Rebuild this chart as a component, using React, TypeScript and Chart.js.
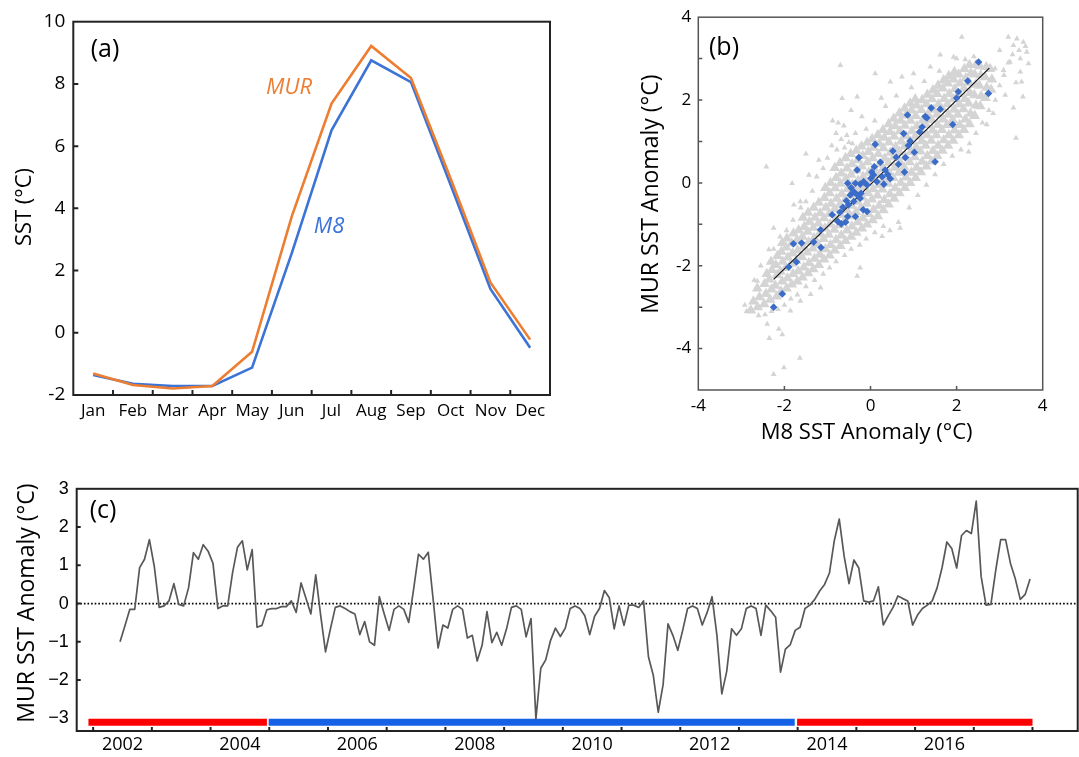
import React, { useEffect, useRef } from "react";
import { Chart, registerables } from "chart.js";
Chart.register(...registerables);

const SANS = '"Open Sans", "DejaVu Sans", sans-serif';
const ARIAL = '"Liberation Sans", Arial, sans-serif';
const ORANGE = "#ED7D31";
const BLUE = "#3B73D6";
const DIAMOND = "#3A6CC8";
const GRAY = "#D4D4D4";

// ---------- (a) monthly climatology ----------
const months = ["Jan", "Feb", "Mar", "Apr", "May", "Jun", "Jul", "Aug", "Sep", "Oct", "Nov", "Dec"];
const murClimatology = [-1.31, -1.68, -1.79, -1.71, -0.61, 3.74, 7.37, 9.22, 8.19, 4.95, 1.62, -0.22];
const m8Climatology = [-1.36, -1.64, -1.71, -1.71, -1.12, 2.56, 6.51, 8.76, 8.06, 4.75, 1.41, -0.48];
const climYTicks = [0, 2, 4, 6, 8];

// ---------- (b) scatter (x = M8 anomaly, y = MUR anomaly) ----------
const grayBandLow = [
  -2.78, -3.08, -2.72, -2.86, -2.62, -3.0, -2.58, -2.76, -2.63, -2.55,
  -2.47, -2.93, -2.43, -2.68, -2.46, -2.44, -2.41, -2.2,
  -2.33, -2.82, -2.3, -2.57, -2.35, -2.33, -2.29, -2.1, -2.31, -1.9,
  -2.18, -2.74, -2.21, -2.48, -2.17, -2.22, -2.2, -1.98, -2.16, -1.76,
  -2.08, -2.62, -2.05, -2.38, -2.09, -2.14, -2.04, -1.9, -2.07, -1.66, -2.05, -1.45,
  -1.95, -2.55, -1.93, -2.3, -1.97, -2.05, -1.92, -1.8, -1.96, -1.56, -1.94, -1.34,
  -1.83, -2.45, -1.8, -2.2, -1.84, -1.95, -1.81, -1.7, -1.83, -1.46, -1.79, -1.22,
  -1.7, -2.38, -1.68, -2.13, -1.72, -1.88, -1.69, -1.63, -1.71, -1.38, -1.67, -1.14,
  -1.58, -2.28, -1.55, -2.04, -1.59, -1.79, -1.56, -1.54, -1.58, -1.3, -1.54, -1.06, -1.57, -0.84,
  -1.45, -2.18, -1.43, -1.93, -1.47, -1.68, -1.44, -1.43, -1.46, -1.18, -1.42, -0.94, -1.45, -0.72,
  -1.33, -2.08, -1.3, -1.83, -1.34, -1.58, -1.31, -1.33, -1.33, -1.08, -1.29, -0.84, -1.32, -0.6,
  -1.2, -1.98, -1.18, -1.73, -1.22, -1.48, -1.19, -1.23, -1.21, -0.98, -1.17, -0.73, -1.2, -0.48,
  -1.08, -1.85, -1.05, -1.6, -1.09, -1.35, -1.06, -1.1, -1.08, -0.85, -1.04, -0.6, -1.07, -0.36, -1.05, -0.12,
];
const grayBandMid = [
  -0.95, -1.75, -0.93, -1.5, -0.97, -1.25, -0.94, -1.0, -0.96, -0.75, -0.92, -0.5, -0.95, -0.25, -0.93, 0.0,
  -0.83, -1.63, -0.8, -1.38, -0.84, -1.13, -0.81, -0.88, -0.83, -0.63, -0.79, -0.38, -0.82, -0.13, -0.8, 0.12, -0.83, 0.36,
  -0.7, -1.52, -0.68, -1.27, -0.72, -1.02, -0.69, -0.77, -0.71, -0.52, -0.67, -0.27, -0.7, -0.02, -0.68, 0.23, -0.71, 0.48,
  -0.58, -1.4, -0.55, -1.15, -0.59, -0.9, -0.56, -0.65, -0.58, -0.4, -0.54, -0.15, -0.57, 0.1, -0.55, 0.35, -0.58, 0.6,
  -0.45, -1.3, -0.43, -1.05, -0.47, -0.8, -0.44, -0.55, -0.46, -0.3, -0.42, -0.05, -0.45, 0.2, -0.43, 0.45, -0.46, 0.7,
  -0.33, -1.2, -0.3, -0.95, -0.34, -0.7, -0.31, -0.45, -0.33, -0.2, -0.29, 0.05, -0.32, 0.3, -0.3, 0.55, -0.33, 0.78,
  -0.2, -1.1, -0.18, -0.85, -0.22, -0.6, -0.19, -0.35, -0.21, -0.1, -0.17, 0.15, -0.2, 0.4, -0.18, 0.65, -0.21, 0.88,
  -0.08, -1.0, -0.05, -0.75, -0.09, -0.5, -0.06, -0.25, -0.08, 0.0, -0.04, 0.25, -0.07, 0.5, -0.05, 0.75, -0.08, 0.97,
  0.05, -0.9, 0.07, -0.65, 0.03, -0.4, 0.06, -0.15, 0.04, 0.1, 0.08, 0.35, 0.05, 0.6, 0.07, 0.85, 0.04, 1.06,
  0.17, -0.8, 0.2, -0.55, 0.16, -0.3, 0.19, -0.05, 0.17, 0.2, 0.21, 0.45, 0.18, 0.7, 0.2, 0.95, 0.17, 1.16,
  0.3, -0.66, 0.32, -0.41, 0.28, -0.16, 0.31, 0.09, 0.29, 0.34, 0.33, 0.59, 0.3, 0.84, 0.32, 1.09, 0.29, 1.28,
  0.42, -0.52, 0.45, -0.27, 0.41, -0.02, 0.44, 0.23, 0.42, 0.48, 0.46, 0.73, 0.43, 0.98, 0.45, 1.23, 0.42, 1.42,
  0.55, -0.38, 0.57, -0.13, 0.53, 0.12, 0.56, 0.37, 0.54, 0.62, 0.58, 0.87, 0.55, 1.12, 0.57, 1.37, 0.54, 1.55,
  0.67, -0.25, 0.7, 0.0, 0.66, 0.25, 0.69, 0.5, 0.67, 0.75, 0.71, 1.0, 0.68, 1.25, 0.7, 1.5, 0.67, 1.68,
  0.8, -0.12, 0.82, 0.13, 0.78, 0.38, 0.81, 0.63, 0.79, 0.88, 0.83, 1.13, 0.8, 1.38, 0.82, 1.63, 0.79, 1.8,
];
const grayBandHigh = [
  0.92, 0.0, 0.95, 0.25, 0.91, 0.5, 0.94, 0.75, 0.92, 1.0, 0.96, 1.25, 0.93, 1.5, 0.95, 1.75, 0.92, 1.92,
  1.05, 0.12, 1.07, 0.37, 1.03, 0.62, 1.06, 0.87, 1.04, 1.12, 1.08, 1.37, 1.05, 1.62, 1.07, 1.87, 1.04, 2.02,
  1.17, 0.26, 1.2, 0.51, 1.16, 0.76, 1.19, 1.01, 1.17, 1.26, 1.21, 1.51, 1.18, 1.76, 1.2, 2.0,
  1.3, 0.4, 1.32, 0.65, 1.28, 0.9, 1.31, 1.15, 1.29, 1.4, 1.33, 1.65, 1.3, 1.9, 1.32, 2.13,
  1.42, 0.52, 1.45, 0.77, 1.41, 1.02, 1.44, 1.27, 1.42, 1.52, 1.46, 1.77, 1.43, 2.02, 1.45, 2.24,
  1.55, 0.65, 1.57, 0.9, 1.53, 1.15, 1.56, 1.4, 1.54, 1.65, 1.58, 1.9, 1.55, 2.15, 1.57, 2.35,
  1.67, 0.78, 1.7, 1.03, 1.66, 1.28, 1.69, 1.53, 1.67, 1.78, 1.71, 2.03, 1.68, 2.28, 1.7, 2.48,
  1.8, 0.9, 1.82, 1.15, 1.78, 1.4, 1.81, 1.65, 1.79, 1.9, 1.83, 2.15, 1.8, 2.4, 1.82, 2.58,
  1.92, 1.02, 1.95, 1.27, 1.91, 1.52, 1.94, 1.77, 1.92, 2.02, 1.96, 2.27, 1.93, 2.5, 1.95, 2.68,
  2.05, 1.15, 2.07, 1.4, 2.03, 1.65, 2.06, 1.9, 2.04, 2.15, 2.08, 2.4, 2.05, 2.62,
  2.17, 1.28, 2.2, 1.53, 2.16, 1.78, 2.19, 2.03, 2.17, 2.28, 2.21, 2.53, 2.18, 2.75,
  2.3, 1.42, 2.32, 1.67, 2.28, 1.92, 2.31, 2.17, 2.29, 2.42, 2.33, 2.65, 2.3, 2.85,
  2.42, 1.62, 2.45, 1.87, 2.41, 2.12, 2.44, 2.37, 2.42, 2.62, 2.45, 2.85,
  2.55, 1.85, 2.57, 2.1, 2.53, 2.35, 2.56, 2.6, 2.54, 2.82,
  2.67, 2.05, 2.7, 2.3, 2.66, 2.55, 2.69, 2.8,
  2.8, 2.25, 2.82, 2.5, 2.78, 2.75,
];
const grayScattered = [
  -0.88, 1.5, -0.75, 1.45, -0.62, 1.38, -0.55, 1.15, -0.8, 1.2, -0.68, 1.05, -0.5, 0.98, -0.9, 0.9,
  -0.35, 1.2, -0.42, 0.95, -0.78, 0.8, -0.6, 0.85,
  -1.0, 0.6, -1.1, 0.35, -1.25, 0.15, -1.35, -0.2, -1.5, -0.45, -1.62, -0.6, -1.8, -0.9, -1.95, -1.15,
  -2.1, -1.3, -2.25, -1.6, -1.43, 0.19, -1.63, -0.45, -1.78, -0.53, -1.82, -0.01, -1.5, 0.7, -1.2, 0.55,
  -2.25, -1.09, -2.36, -1.61, -2.63, -2.37, -2.42, 0.39,
  -2.55, -2.0, -2.7, -2.35, -2.88, -3.1, -2.92, -2.95, -2.83, -3.09, -2.6, -3.2, -2.45, -3.18, -2.3, -3.1,
  -2.15, -3.05, -2.0, -2.95, -1.85, -2.8, -1.7, -2.7, -1.5, -2.5, -1.3, -2.35, -1.1, -2.2, -0.95, -2.05,
  -0.8, -1.9, -0.6, -1.75, -0.45, -1.6, -0.25, -1.5, -0.1, -1.35, 0.1, -1.2, 0.3, -1.05, 0.45, -1.15,
  0.65, -0.95, 0.69, -1.09, 0.27, -1.29, -0.31, -2.25, -0.24, -2.05, -1.63, -2.85, -1.39, -2.69, -1.16, -2.53,
  -1.86, -3.09, -2.4, -3.41, -2.13, -3.53, -2.05, -3.66, -2.35, -3.75, -2.25, -4.62, -2.01, -4.46, -1.64, -4.23,
  0.9, -0.6, 1.1, -0.3, 1.3, -0.05, 1.5, 0.2, 1.7, 0.45, 1.9, 0.65, 2.1, 0.8, 2.28, 0.75, 2.3, 0.95,
  2.45, 1.2, 2.6, 1.45, 2.75, 1.75, 2.7, 1.41, 2.85, 1.68, 2.9, 2.0, 3.0, 2.35, 3.1, 2.6, 2.89, 2.76,
  3.09, 2.72, 3.48, 2.68, 3.2, 2.9, 3.3, 3.1,
  3.2, 3.52, 3.4, 3.48, 3.55, 3.4, 3.32, 3.32, 3.63, 3.16, 3.48, 3.0, 3.24, 2.92, 3.67, 2.88, 3.6, 3.3,
  3.45, 3.2, 3.0, 3.2, 3.51, 2.44, 3.13, 2.12, 3.54, 2.08, 3.32, 1.81, 3.38, 1.08, 3.38, 2.42,
  2.4, 3.05, 2.2, 2.98, 2.0, 3.0, 2.12, 3.52, 1.93, 3.04, 1.62, 3.09, 1.39, 2.8, 1.0, 2.64, 0.73, 2.56,
  0.46, 2.44, 1.6, 2.7, 1.25, 2.45, 0.95, 2.3, 0.6, 2.1, 0.35, 1.85, 0.1, 1.5, -0.1, 1.3, 0.11, 2.64,
  -0.2, 1.6, -0.7, 2.84, -0.66, 2.04, -0.31, 2.08, -0.45, 1.75, 0.25, 2.05,
];
const blueMatchups = [
  2.51, 2.92, 2.26, 2.46, 2.74, 2.16, 2.04, 2.2, 2.0, 2.05, 1.41, 1.81, 1.62, 1.78, 1.27, 1.6, 1.31, 1.57,
  0.86, 1.64, 1.91, 1.41, 1.2, 1.35, 1.14, 1.23, 0.77, 1.19, 0.92, 1.01, 0.88, 0.9, 1.02, 0.74, 0.11, 0.93,
  0.52, 0.77, 1.5, 0.51, 0.81, 0.61, 0.79, 0.26, 0.65, 0.45, -0.27, 0.61, -0.31, 0.31, 0.23, 0.5, 0.09, 0.39,
  0.34, 0.31, 0.46, 0.1, 0.31, -0.03, 0.07, 0.19, 0.01, 0.11, -0.08, -0.05, -0.16, 0.03, -0.24, -0.03,
  -0.35, -0.01, -0.53, -0.01, -0.38, -0.22, -0.47, -0.29, -0.56, -0.43, -0.51, -0.53, -0.64, -0.59,
  -0.39, -0.45, -0.24, -0.37, -0.17, -0.65, -0.08, -0.69, -0.71, -0.71, -0.53, -0.81, -0.35, -0.81,
  -0.89, -0.77, -0.76, -0.93, -0.58, -0.95, -0.68, -0.99, -1.16, -1.13, -1.32, -1.43, -1.15, -1.56,
  -1.79, -1.47, -1.6, -1.45, -1.72, -1.91, -1.9, -2.03, -2.05, -2.68, -2.25, -3.0, 0.27, 0.15, 0.15, 0.03,
  0.03, 0.26, -0.22, -0.25, 0.6, 0.62, 0.4, 0.2, -0.45, -0.12, -0.3, -0.3,
];
const regressionX = [-2.25, 2.76];
const regressionY = [-2.33, 2.77];
const scatterTickValues = [-4, -2, 0, 2, 4];
const scatterInnerX = [-2, 0, 2];
const scatterInnerY = [-4, -3, -2, -1, 0, 1, 2, 3];

// ---------- (c) monthly MUR anomaly, Jun 2002 - Dec 2017 ----------
const anom2002 = [-1.0, -0.58, -0.15, -0.15, 0.94, 1.16, 1.67]; // Jun-Dec
const anom2003 = [0.97, -0.1, -0.06, 0.07, 0.52, -0.02, -0.06, 0.41, 1.33, 1.16, 1.54, 1.37];
const anom2004 = [1.05, -0.13, -0.06, -0.06, 0.81, 1.47, 1.64, 0.88, 1.41, -0.62, -0.57, -0.16];
const anom2005 = [-0.13, -0.13, -0.08, -0.08, 0.07, -0.23, 0.54, 0.14, -0.27, 0.75, -0.3, -1.26];
const anom2006 = [-0.66, -0.1, -0.06, -0.13, -0.21, -0.27, -0.81, -0.47, -1.0, -1.09, 0.18, -0.27];
const anom2007 = [-0.7, -0.15, -0.06, -0.15, -0.49, 0.37, 1.29, 1.16, 1.34, 0.1, -1.16, -0.56];
const anom2008 = [-0.64, -0.15, -0.06, -0.15, -0.9, -0.83, -1.5, -1.09, -0.21, -1.02, -0.75, -1.09];
const anom2009 = [-0.66, -0.1, -0.06, -0.15, -0.87, -0.39, -3.02, -1.69, -1.47, -0.96, -0.64, -0.86];
const anom2010 = [-0.64, -0.13, -0.06, -0.13, -0.32, -0.81, -0.33, -0.13, 0.34, 0.15, -0.66, -0.06];
const anom2011 = [-0.57, -0.04, -0.04, -0.1, 0.07, -1.39, -1.88, -2.84, -2.12, -0.53, -0.83, -1.22];
const anom2012 = [-0.7, -0.13, -0.06, -0.13, -0.56, -0.23, 0.18, -0.83, -2.36, -1.77, -0.66, -0.83];
const anom2013 = [-0.66, -0.13, -0.06, -0.13, -0.83, -0.04, -0.19, -0.36, -1.79, -1.19, -1.07, -0.7];
const anom2014 = [-0.62, -0.13, -0.04, 0.11, 0.33, 0.5, 0.8, 1.65, 2.21, 1.24, 0.52, 1.14];
const anom2015 = [0.93, 0.07, 0.04, 0.07, 0.44, -0.56, -0.32, -0.1, 0.2, 0.13, 0.07, -0.56];
const anom2016 = [-0.3, -0.13, -0.04, 0.07, 0.41, 0.93, 1.61, 1.44, 0.93, 1.78, 1.91, 1.83];
const anom2017 = [2.68, 0.71, -0.04, -0.02, 0.88, 1.67, 1.67, 1.05, 0.64, 0.11, 0.24, 0.64];
const anomFirstYear = 2002;
const anomFirstMonth = 6;
const yearLabels = [2002, 2004, 2006, 2008, 2010, 2012, 2014, 2016];
const yearTicks = [2002, 2003, 2004, 2005, 2006, 2007, 2008, 2009, 2010, 2011, 2012, 2013, 2014, 2015, 2016, 2017, 2018];
const anomYTicks = [-3, -2, -1, 0, 1, 2, 3];
const periodStart = [2001.92, 2004.99, 2013.99];
const periodEnd = [2004.96, 2013.95, 2018.0];
const periodColor = ["#FF0000", "#1562E6", "#FF0000"];
const periodLevel = -3.1;

const pairs = (flat: number[]) => {
  const out: { x: number; y: number }[] = [];
  for (let i = 0; i < flat.length; i += 2) out.push({ x: flat[i], y: flat[i + 1] });
  return out;
};

type Txt = { text: string; x: number; y: number; font: string; color?: string; rotate?: boolean; data?: boolean };
type DecorOpts = {
  box: string;
  boxWidth: number;
  xTicks: number[];
  yTicks: number[];
  tickLen: number;
  texts: Txt[];
  zeroLine?: boolean;
};

function decor(o: DecorOpts) {
  return {
    id: "decor",
    beforeDatasetsDraw(chart: any) {
      if (!o.zeroLine) return;
      const { ctx, chartArea: a, scales } = chart;
      const py = scales.y.getPixelForValue(0);
      ctx.save();
      ctx.strokeStyle = "#000";
      ctx.lineWidth = 1.6;
      ctx.setLineDash([1.6, 2]);
      ctx.beginPath();
      ctx.moveTo(a.left, py);
      ctx.lineTo(a.right, py);
      ctx.stroke();
      ctx.restore();
    },
    afterDraw(chart: any) {
      const { ctx, chartArea: a, scales } = chart;
      ctx.save();
      ctx.strokeStyle = o.box;
      ctx.lineWidth = o.boxWidth;
      ctx.beginPath();
      for (const v of o.xTicks) {
        const px = scales.x.getPixelForValue(v);
        ctx.moveTo(px, a.bottom);
        ctx.lineTo(px, a.bottom - o.tickLen);
      }
      for (const v of o.yTicks) {
        const py = scales.y.getPixelForValue(v);
        ctx.moveTo(a.left, py);
        ctx.lineTo(a.left + o.tickLen, py);
      }
      ctx.stroke();
      ctx.strokeRect(a.left, a.top, a.right - a.left, a.bottom - a.top);
      ctx.textAlign = "center";
      ctx.textBaseline = "middle";
      for (const t of o.texts) {
        ctx.font = t.font;
        ctx.fillStyle = t.color || "#000";
        const x = t.data ? scales.x.getPixelForValue(t.x) : t.x;
        const y = t.data ? scales.y.getPixelForValue(t.y) : t.y;
        if (t.rotate) {
          ctx.save();
          ctx.translate(x, y);
          ctx.rotate(-Math.PI / 2);
          ctx.fillText(t.text, 0, 0);
          ctx.restore();
        } else {
          ctx.fillText(t.text, x, y);
        }
      }
      ctx.restore();
    },
  };
}

const noGrid = { display: false, drawTicks: false };
const noBorder = { display: false };

export default function App() {
  const refA = useRef<HTMLCanvasElement>(null);
  const refB = useRef<HTMLCanvasElement>(null);
  const refC = useRef<HTMLCanvasElement>(null);

  useEffect(() => {
    const charts: Chart[] = [];

    // ----- (a) -----
    charts.push(
      new Chart(refA.current as HTMLCanvasElement, {
        type: "line",
        data: {
          labels: months,
          datasets: [
            { data: murClimatology, borderColor: ORANGE, borderWidth: 2.6, pointRadius: 0, tension: 0 },
            { data: m8Climatology, borderColor: BLUE, borderWidth: 2.6, pointRadius: 0, tension: 0 },
          ],
        },
        options: {
          responsive: false,
          animation: false,
          devicePixelRatio: 1,
          layout: { padding: { left: 0, top: 21.7, right: 10, bottom: 0 } },
          plugins: { legend: { display: false }, tooltip: { enabled: false } },
          scales: {
            x: {
              type: "category",
              offset: true,
              grid: noGrid,
              border: noBorder,
              ticks: { color: "#000", font: { family: SANS, size: 17 }, padding: 6, autoSkip: false, maxRotation: 0 },
              afterFit: (s: any) => { s.height = 45; },
            },
            y: {
              min: -2,
              max: 10,
              grid: noGrid,
              border: noBorder,
              ticks: { stepSize: 2, color: "#000", font: { family: SANS, size: 19 }, padding: 8 },
              afterFit: (s: any) => { s.width = 73.3; },
            },
          },
        } as any,
        plugins: [
          decor({
            box: "#222",
            boxWidth: 2,
            xTicks: months.slice(1).map((_, i) => i + 0.5),
            yTicks: climYTicks,
            tickLen: 5,
            texts: [
              { text: "(a)", x: 105, y: 50, font: `25px ${SANS}` },
              { text: "SST (°C)", x: 25, y: 207, font: `22px ${SANS}`, rotate: true },
              { text: "MUR", x: 4.93, y: 7.87, font: `italic 22px ${SANS}`, color: ORANGE, data: true },
              { text: "M8", x: 5.94, y: 3.4, font: `italic 22px ${SANS}`, color: BLUE, data: true },
            ],
          }) as any,
        ],
      })
    );

    // ----- (b) -----
    const tickSetter = (vals: number[]) => (s: any) => { s.ticks = vals.map((v) => ({ value: v })); };
    charts.push(
      new Chart(refB.current as HTMLCanvasElement, {
        type: "scatter",
        data: {
          datasets: [
            { data: pairs(blueMatchups), pointStyle: "rectRot", pointRadius: 3.8, pointBackgroundColor: DIAMOND, pointBorderWidth: 0, order: 1 },
            {
              data: regressionX.map((x, i) => ({ x, y: regressionY[i] })),
              showLine: true, borderColor: "#111", borderWidth: 1.2, pointRadius: 0, order: 2,
            },
            { data: pairs(grayScattered), pointStyle: "triangle", pointRadius: 3.4, pointBackgroundColor: GRAY, pointBorderWidth: 0, order: 3 },
            {
              data: pairs(grayBandLow).concat(pairs(grayBandMid), pairs(grayBandHigh)),
              pointStyle: "triangle", pointRadius: 6.2, pointBackgroundColor: GRAY, pointBorderWidth: 0, order: 4,
            },
          ],
        },
        options: {
          responsive: false,
          animation: false,
          devicePixelRatio: 1,
          layout: { padding: { left: 0, top: 15, right: 36.3, bottom: 0 } },
          plugins: { legend: { display: false }, tooltip: { enabled: false } },
          scales: {
            x: {
              type: "linear",
              min: -4,
              max: 4,
              grid: noGrid,
              border: noBorder,
              afterBuildTicks: tickSetter(scatterTickValues),
              ticks: { color: "#000", font: { family: SANS, size: 17 }, padding: 6 },
              afterFit: (s: any) => { s.height = 60; },
            },
            y: {
              type: "linear",
              min: -5,
              max: 4,
              grid: noGrid,
              border: noBorder,
              afterBuildTicks: tickSetter(scatterTickValues),
              ticks: { color: "#000", font: { family: SANS, size: 17 }, padding: 7 },
              afterFit: (s: any) => { s.width = 98.3; },
            },
          },
        } as any,
        plugins: [
          decor({
            box: "#555",
            boxWidth: 1.5,
            xTicks: scatterInnerX,
            yTicks: scatterInnerY,
            tickLen: 4,
            texts: [
              { text: "(b)", x: 124, y: 48, font: `25px ${SANS}` },
              { text: "MUR SST Anomaly (°C)", x: 51, y: 194, font: `23px ${SANS}`, rotate: true },
              { text: "M8 SST Anomaly (°C)", x: 266.7, y: 433, font: `22px ${SANS}` },
            ],
          }) as any,
        ],
      })
    );

    // ----- (c) -----
    const anomSeries = ([] as number[]).concat(
      anom2002, anom2003, anom2004, anom2005, anom2006, anom2007, anom2008, anom2009,
      anom2010, anom2011, anom2012, anom2013, anom2014, anom2015, anom2016, anom2017
    );
    const anomPoints = anomSeries.map((v, i) => ({ x: anomFirstYear + (anomFirstMonth - 1 + i + 0.5) / 12, y: v }));
    const periodSets = periodStart.map((s, i) => ({
      data: [{ x: s, y: periodLevel }, { x: periodEnd[i], y: periodLevel }],
      borderColor: periodColor[i],
      borderWidth: 7,
      borderCapStyle: "butt",
      pointRadius: 0,
    }));
    charts.push(
      new Chart(refC.current as HTMLCanvasElement, {
        type: "line",
        data: {
          datasets: [
            { data: anomPoints, borderColor: "#585858", borderWidth: 1.7, pointRadius: 0, tension: 0, borderJoinStyle: "round" },
            ...periodSets,
          ] as any,
        },
        options: {
          responsive: false,
          animation: false,
          devicePixelRatio: 1,
          layout: { padding: { left: 0, top: 14, right: 1.3, bottom: 0 } },
          plugins: { legend: { display: false }, tooltip: { enabled: false } },
          scales: {
            x: {
              type: "linear",
              min: 2001.72,
              max: 2018.77,
              grid: noGrid,
              border: noBorder,
              afterBuildTicks: tickSetter(yearLabels.map((y) => y + 0.5)),
              ticks: {
                color: "#000",
                font: { family: SANS, size: 18 },
                padding: 3,
                maxRotation: 0,
                callback: (v: any) => String(Math.floor(Number(v))),
              },
              afterFit: (s: any) => { s.height = 26; },
            },
            y: {
              type: "linear",
              min: -3.33,
              max: 3,
              grid: noGrid,
              border: noBorder,
              afterBuildTicks: tickSetter(anomYTicks),
              ticks: {
                color: "#000",
                font: { family: ARIAL, size: 18 },
                padding: 8,
                callback: (v: any) => (Number(v) < 0 ? "\u2212" + Math.abs(Number(v)) : String(v)),
              },
              afterFit: (s: any) => { s.width = 76.7; },
            },
          },
        } as any,
        plugins: [
          decor({
            box: "#222",
            boxWidth: 2,
            xTicks: yearTicks,
            yTicks: anomYTicks.slice(1, -1),
            tickLen: 4,
            zeroLine: true,
            texts: [
              { text: "(c)", x: 103, y: 41, font: `25px ${SANS}` },
              { text: "MUR SST Anomaly (°C)", x: 27, y: 133, font: `23px ${SANS}`, rotate: true },
            ],
          }) as any,
        ],
      })
    );

    return () => charts.forEach((c) => c.destroy());
  }, []);

  return (
    <div style={{ position: "absolute", left: 0, top: 0, width: 1079, height: 757, background: "#fff", overflow: "hidden" }}>
      <canvas ref={refA} width={560} height={440} style={{ position: "absolute", left: 0, top: 0, width: 560, height: 440 }} />
      <canvas ref={refB} width={479} height={450} style={{ position: "absolute", left: 600, top: 0, width: 479, height: 450 }} />
      <canvas ref={refC} width={1079} height={287} style={{ position: "absolute", left: 0, top: 470, width: 1079, height: 287 }} />
    </div>
  );
}
